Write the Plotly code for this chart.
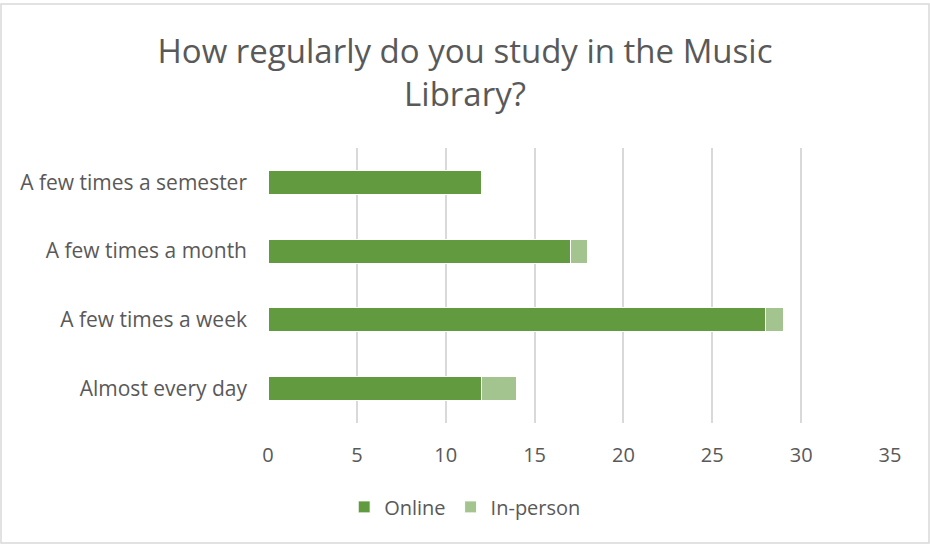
import plotly.graph_objects as go

categories = ['Almost every day', 'A few times a week', 'A few times a month', 'A few times a semester']
online = [12, 28, 17, 12]
in_person = [2, 1, 1, 0]
tick_vals = [0, 5, 10, 15, 20, 25, 30, 35]

font_name = 'Open Sans'
grey_text = '#595959'

fig = go.Figure()
fig.add_trace(go.Bar(y=categories, x=online, name='Online', orientation='h',
                     marker=dict(color='#629A3F', line=dict(color='white', width=1))))
fig.add_trace(go.Bar(y=categories, x=in_person, name='In-person', orientation='h',
                     marker=dict(color='#A3C48F', line=dict(color='white', width=1))))

fig.update_layout(
    barmode='stack',
    bargap=0.65,
    width=930, height=544,
    margin=dict(l=268, r=40, t=148, b=121),
    plot_bgcolor='white', paper_bgcolor='white',
    font=dict(family=font_name, color=grey_text, size=20),
    title=dict(text='How regularly do you study in the Music<br>Library?',
               x=0.5, xanchor='center', yref='container', y=1 - 63 / 544, yanchor='middle',
               font=dict(size=33, color=grey_text, family=font_name)),
    legend=dict(orientation='h', x=0.317, xanchor='center', y=-0.305, yanchor='middle',
                font=dict(size=20, color=grey_text), traceorder='normal'),
    shapes=[dict(type='rect', xref='paper', yref='paper',
                 x0=-267 / 622, x1=1 + 39 / 622, y0=-120 / 275, y1=1 + 144 / 275,
                 line=dict(color='#D9D9D9', width=1.5), fillcolor='rgba(0,0,0,0)', layer='below')],
)
fig.update_xaxes(range=[0, 35], tickvals=tick_vals, showgrid=True, gridcolor='#D9D9D9', gridwidth=1.5,
                 zeroline=False, showline=False, ticks='', ticklabelstandoff=18,
                 tickfont=dict(size=20, color=grey_text))
fig.update_yaxes(showgrid=False, ticks='', ticklabelstandoff=20,
                 tickfont=dict(size=21, color=grey_text))

fig.write_html("out.html", config={'displayModeBar': False},
               post_script="document.body.style.margin='0';")
